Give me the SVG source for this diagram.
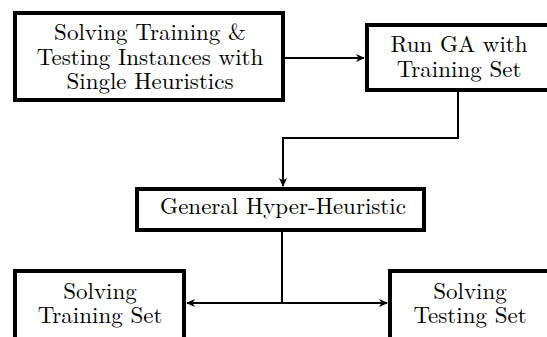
<svg xmlns="http://www.w3.org/2000/svg" width="547" height="337" viewBox="0 0 547 337">
<defs>
<style>
.box{fill:#fff;stroke:#000;stroke-width:4}
.lbl{font-size:23px;fill:#000;text-anchor:middle}
.conn{fill:none;stroke:#000;stroke-width:2}
</style>
<marker id="arr" viewBox="0 0 10 10" refX="9" refY="5" markerWidth="9" markerHeight="9" markerUnits="userSpaceOnUse" orient="auto">
<path d="M0,0.5 L10,5 L0,9.5 L3,5 Z" fill="#000"/>
</marker>
</defs>
<rect width="547" height="337" fill="#fff"/>
<g font-family="Latin Modern Roman, Liberation Serif, serif">
<g id="n1">
<rect class="box" x="15" y="13" width="268" height="87"/>
<text class="lbl" x="150" y="40">Solving Training &amp;</text>
<text class="lbl" x="150" y="65">Testing Instances with</text>
<text class="lbl" x="150" y="89">Single Heuristics</text>
</g>
<g id="n2">
<rect class="box" x="367" y="25" width="190" height="65"/>
<text class="lbl" x="459" y="52">Run GA with</text>
<text class="lbl" x="459" y="77">Training Set</text>
</g>
<g id="n3">
<rect class="box" x="137" y="189" width="287" height="41"/>
<text class="lbl" x="283" y="214">General Hyper-Heuristic</text>
</g>
<g id="n4">
<rect class="box" x="15" y="271" width="169" height="80"/>
<text class="lbl" x="100" y="299">Solving</text>
<text class="lbl" x="100" y="323">Training Set</text>
</g>
<g id="n5">
<rect class="box" x="390" y="271" width="170" height="80"/>
<text class="lbl" x="470" y="299">Solving</text>
<text class="lbl" x="470" y="323">Testing Set</text>
</g>
</g>
<g id="connectors">
<path class="conn" d="M285,58 H364" marker-end="url(#arr)"/>
<path class="conn" d="M458,92 V138 H283 V186" marker-end="url(#arr)"/>
<path class="conn" d="M282,232 V303"/>
<path class="conn" d="M282,303 H187" marker-end="url(#arr)"/>
<path class="conn" d="M282,303 H387" marker-end="url(#arr)"/>
</g>
</svg>
